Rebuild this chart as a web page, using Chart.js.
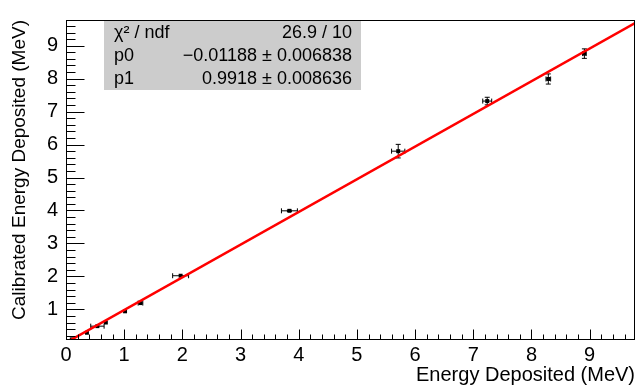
<!DOCTYPE html>
<html><head><meta charset="utf-8">
<script src="https://cdn.jsdelivr.net/npm/chart.js@4/dist/chart.umd.min.js"></script>
<style>html,body{margin:0;padding:0;background:#fff;overflow:hidden}#c{display:block}</style>
</head><body>
<canvas id="c" width="639" height="389"></canvas>
<script>
// ---- data ----
const xValues = [0.10, 0.36, 0.54, 0.685, 1.015, 1.28, 1.97, 3.84, 5.71, 7.24, 8.29, 8.91];
const yValues = [0.09, 0.29, 0.49, 0.60, 0.94, 1.19, 2.02, 3.99, 5.80, 7.32, 7.99, 8.76];
const xErrors = [0, 0, 0.115, 0, 0, 0.04, 0.137, 0.137, 0.114, 0.077, 0.04, 0.03];
const yErrors = [0, 0, 0, 0, 0, 0, 0, 0.02, 0.206, 0.115, 0.154, 0.144];
const fitX = [0, 9.78];
const fitY = [-0.012, 9.688];
const xTickLabels = [0, 1, 2, 3, 4, 5, 6, 7, 8, 9];
const yTickLabels = [1, 2, 3, 4, 5, 6, 7, 8, 9];
const statsLabels = ['χ² / ndf', 'p0', 'p1'];
const statsValues = ['26.9 / 10', '\u22120.01188 \u00b1 0.006838', '0.9918 \u00b1 0.008636'];
const xTitle = 'Energy Deposited (MeV)';
const yTitle = 'Calibrated Energy Deposited (MeV)';

const FONT = '"Liberation Sans", Arial, Helvetica, sans-serif';
const X_MIN = 0, X_MAX = 9.78, Y_MIN = 0.07, Y_MAX = 9.78;
const MINOR = 0.2;

const pointData = xValues.map((x, i) => ({x: x, y: yValues[i]}));
const fitData = fitX.map((x, i) => ({x: x, y: fitY[i]}));

const rootPlugin = {
  id: 'rootStyle',
  beforeDatasetsDraw(chart) {
    const ctx = chart.ctx, xs = chart.scales.x, ys = chart.scales.y;
    const a = chart.chartArea;
    ctx.save();
    ctx.beginPath();
    ctx.rect(a.left, a.top, a.right - a.left, a.bottom - a.top);
    ctx.clip();
    ctx.strokeStyle = '#000';
    ctx.lineWidth = 1;
    const cap = 2.5;
    for (let i = 0; i < xValues.length; i++) {
      const px = xs.getPixelForValue(xValues[i]);
      const py = ys.getPixelForValue(yValues[i]);
      ctx.beginPath();
      if (xErrors[i] > 0) {
        const x1 = xs.getPixelForValue(xValues[i] - xErrors[i]);
        const x2 = xs.getPixelForValue(xValues[i] + xErrors[i]);
        ctx.moveTo(x1, py); ctx.lineTo(x2, py);
        ctx.moveTo(x1, py - cap); ctx.lineTo(x1, py + cap);
        ctx.moveTo(x2, py - cap); ctx.lineTo(x2, py + cap);
      }
      if (yErrors[i] > 0) {
        const y1 = ys.getPixelForValue(yValues[i] - yErrors[i]);
        const y2 = ys.getPixelForValue(yValues[i] + yErrors[i]);
        ctx.moveTo(px, y1); ctx.lineTo(px, y2);
        ctx.moveTo(px - cap, y1); ctx.lineTo(px + cap, y1);
        ctx.moveTo(px - cap, y2); ctx.lineTo(px + cap, y2);
      }
      ctx.stroke();
    }
    ctx.restore();
  },
  afterDraw(chart) {
    const ctx = chart.ctx, xs = chart.scales.x, ys = chart.scales.y;
    const a = chart.chartArea;
    ctx.save();
    ctx.strokeStyle = '#000';
    ctx.lineWidth = 1;
    // frame
    ctx.strokeRect(Math.round(a.left) + 0.5, Math.round(a.top) + 0.5,
      Math.round(a.right - a.left) - 1, Math.round(a.bottom - a.top) - 1);
    // ticks
    ctx.beginPath();
    const yb = Math.round(a.bottom) - 0.5;
    for (let v = X_MIN; v <= X_MAX + 1e-9; v += MINOR) {
      const vv = Math.round(v * 10) / 10;
      const major = Math.abs(vv - Math.round(vv)) < 1e-6;
      const px = Math.round(xs.getPixelForValue(vv)) + 0.5;
      ctx.moveTo(px, yb);
      ctx.lineTo(px, yb - (major ? 10 : 5));
    }
    const xl = Math.round(a.left) + 0.5;
    for (let v = 0; v <= Y_MAX + 1e-9; v += MINOR) {
      const vv = Math.round(v * 10) / 10;
      if (vv < Y_MIN) continue;
      const major = Math.abs(vv - Math.round(vv)) < 1e-6;
      const py = Math.round(ys.getPixelForValue(vv)) + 0.5;
      ctx.moveTo(xl, py);
      ctx.lineTo(xl + (major ? 18 : 9), py);
    }
    ctx.stroke();
    // stats box
    const bx = 104, by = 21, bw = 257, bh = 69;
    ctx.fillStyle = '#cccccc';
    ctx.fillRect(bx, by, bw, bh);
    ctx.fillStyle = '#000';
    ctx.font = '18px ' + FONT;
    ctx.textBaseline = 'middle';
    for (let i = 0; i < statsLabels.length; i++) {
      const cy = by + 12 + i * 23;
      ctx.textAlign = 'left';
      ctx.fillText(statsLabels[i], bx + 10, cy);
      ctx.textAlign = 'right';
      ctx.fillText(statsValues[i], bx + bw - 9, cy);
    }
    ctx.restore();
  }
};

new Chart(document.getElementById('c'), {
  data: {
    datasets: [
      {
        type: 'line', data: fitData, borderColor: '#ff0000', borderWidth: 2.5,
        pointRadius: 0, fill: false, tension: 0
      },
      {
        type: 'scatter', data: pointData, backgroundColor: '#000', borderWidth: 0,
        pointStyle: 'rect', pointRadius: 2.8
      }
    ]
  },
  options: {
    responsive: false, animation: false, devicePixelRatio: 1,
    layout: {padding: {top: 3, right: 2, left: 0, bottom: 0}},
    plugins: {legend: {display: false}, tooltip: {enabled: false}},
    scales: {
      x: {
        type: 'linear', position: 'bottom', min: X_MIN, max: X_MAX,
        afterBuildTicks: s => { s.ticks = xTickLabels.map(v => ({value: v})); },
        afterFit: s => { s.height = 49; },
        grid: {display: false, drawTicks: false},
        border: {display: false},
        ticks: {font: {size: 20, family: FONT}, color: '#000', padding: 3, maxRotation: 0, autoSkip: false},
        title: {display: true, text: xTitle, align: 'end', color: '#000',
          font: {size: 20, family: FONT}, padding: {top: 0, bottom: 2}}
      },
      y: {
        type: 'linear', position: 'left', min: Y_MIN, max: Y_MAX,
        afterBuildTicks: s => { s.ticks = yTickLabels.map(v => ({value: v})); },
        afterFit: s => { s.width = 66; },
        grid: {display: false, drawTicks: false},
        border: {display: false},
        ticks: {font: {size: 20, family: FONT}, color: '#000', padding: 8, autoSkip: false},
        title: {display: true, text: yTitle, align: 'end', color: '#000',
          font: {size: 19, family: FONT}, padding: {top: 8.5, bottom: 0}}
      }
    }
  },
  plugins: [rootPlugin]
});
</script>
</body></html>
